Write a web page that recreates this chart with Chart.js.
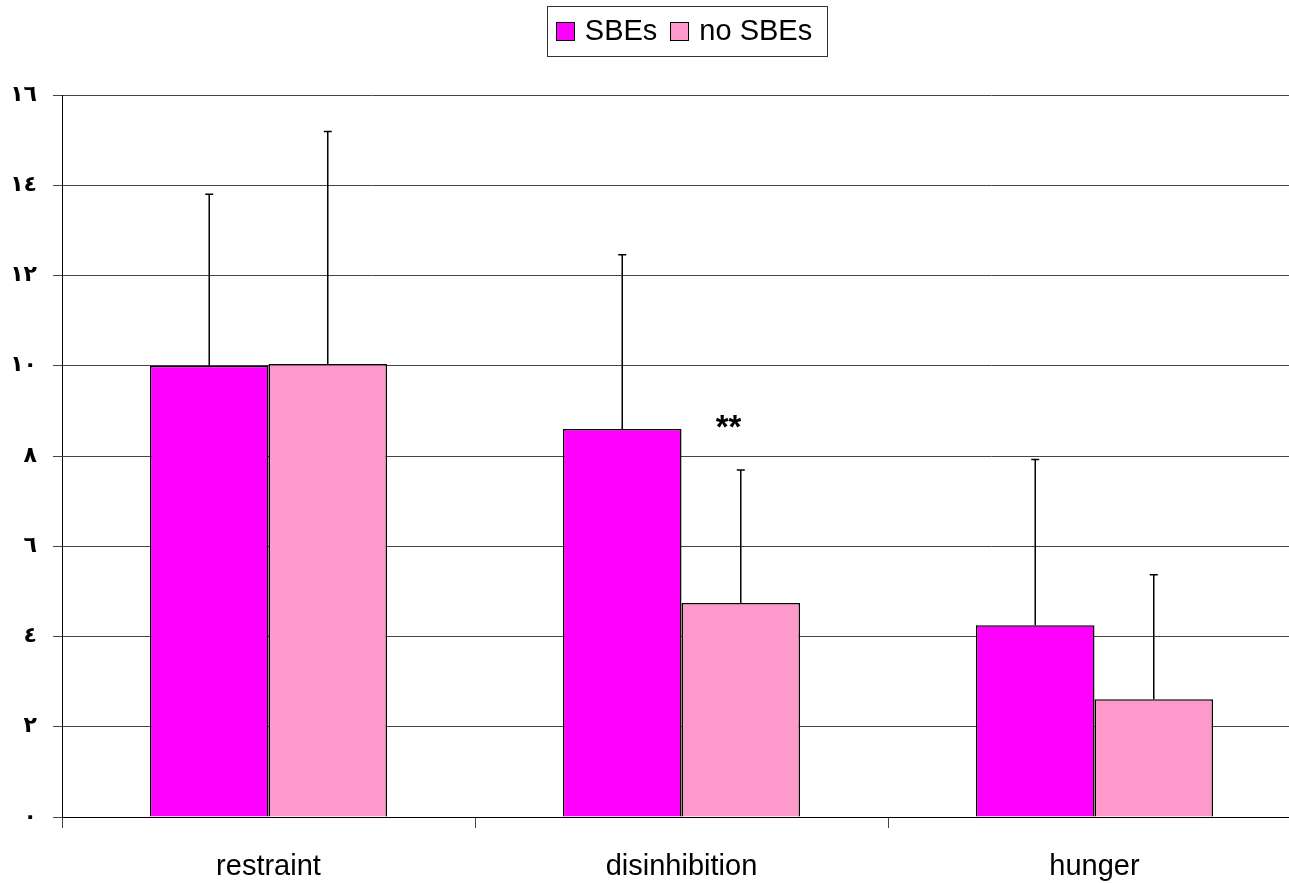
<!DOCTYPE html>
<html>
<head>
<meta charset="utf-8">
<script src="https://cdn.jsdelivr.net/npm/chart.js@4.4.1/dist/chart.umd.min.js"></script>
<style>
  html, body { margin: 0; padding: 0; background: #fff; overflow: hidden; }
  #wrap { position: relative; width: 1362px; height: 883px; }
</style>
</head>
<body>
<div id="wrap"><canvas id="chart"></canvas></div>
<script>
// datos
const categories = ['restraint', 'disinhibition', 'hunger'];
const seriesNames = ['SBEs', 'no SBEs'];
const sbeMeans = [10.0, 8.6, 4.25];
const sbeSD = [3.8, 3.86, 3.67];
const noSbeMeans = [10.04, 4.74, 2.61];
const noSbeSD = [5.15, 2.95, 2.76];
const yTickLabels = ['٠', '٢', '٤', '٦', '٨', '١٠', '١٢', '١٤', '١٦'];
const starLabel = '**';

const COLORS = { sbe: '#ff00ff', noSbe: '#ff99cc', line: '#000', grid: '#444' };
const FONT = 'Liberation Sans, Arial, sans-serif';

// barras de error (solo hacia arriba, como el original)
const errorBars = {
  id: 'errorBars',
  afterDatasetsDraw(chart) {
    const ctx = chart.ctx, y = chart.scales.y;
    chart.data.datasets.forEach((ds, i) => {
      chart.getDatasetMeta(i).data.forEach((bar, j) => {
        const top = y.getPixelForValue(ds.data[j] + ds.sd[j]);
        ctx.save();
        ctx.strokeStyle = COLORS.line;
        ctx.lineWidth = 1.5;
        ctx.beginPath();
        ctx.moveTo(bar.x, bar.y);
        ctx.lineTo(bar.x, top);
        ctx.moveTo(bar.x - 4, top);
        ctx.lineTo(bar.x + 4, top);
        ctx.stroke();
        ctx.restore();
      });
    });
    // asteriscos de significancia en disinhibition
    const x = chart.scales.x.getPixelForValue(1) + 47;
    ctx.save();
    ctx.fillStyle = '#000';
    ctx.font = 'bold 33px ' + FONT;
    ctx.textAlign = 'center';
    ctx.textBaseline = 'middle';
    ctx.fillText(starLabel, x, y.getPixelForValue(8.6));
    ctx.restore();
  }
};

// leyenda con marco, centrada arriba
const boxLegend = {
  id: 'boxLegend',
  afterDraw(chart) {
    const ctx = chart.ctx;
    const sets = chart.data.datasets;
    const sq = 19, gapIn = 10, gapOut = 13;
    ctx.save();
    ctx.font = '29px ' + FONT;
    const widths = sets.map(d => ctx.measureText(d.label).width);
    let total = 0;
    widths.forEach((w, i) => { total += sq + gapIn + w + (i < widths.length - 1 ? gapOut : 0); });
    const cx = 684, cy = 31;
    let x = cx - total / 2;
    ctx.strokeStyle = '#333';
    ctx.lineWidth = 1;
    ctx.strokeRect(Math.round(x - 9) + 0.5, 6.5, Math.round(total + 24), 50);
    ctx.textBaseline = 'middle';
    sets.forEach((d, i) => {
      ctx.fillStyle = d.backgroundColor;
      ctx.fillRect(Math.round(x), cy - 9, sq, sq);
      ctx.strokeStyle = '#000';
      ctx.strokeRect(Math.round(x) + 0.5, cy - 8.5, sq - 1, sq - 1);
      x += sq + gapIn;
      ctx.fillStyle = '#000';
      ctx.fillText(d.label, x, cy + 1);
      x += widths[i] + gapOut;
    });
    ctx.restore();
  }
};

new Chart(document.getElementById('chart'), {
  type: 'bar',
  data: {
    labels: categories,
    datasets: [
      { label: seriesNames[0], data: sbeMeans, sd: sbeSD, backgroundColor: COLORS.sbe, borderColor: COLORS.line, borderWidth: 1.5 },
      { label: seriesNames[1], data: noSbeMeans, sd: noSbeSD, backgroundColor: COLORS.noSbe, borderColor: COLORS.line, borderWidth: 1.5 }
    ]
  },
  options: {
    responsive: true, maintainAspectRatio: false, animation: false,
    barPercentage: 1, categoryPercentage: 0.574,
    layout: { padding: { top: 95, right: 61, bottom: 0, left: 0 } },
    plugins: { legend: { display: false }, tooltip: { enabled: false } },
    scales: {
      x: {
        grid: { drawOnChartArea: false, drawTicks: true, tickLength: 11, tickColor: '#444', offset: true },
        border: { color: COLORS.line, width: 1 },
        ticks: { color: '#000', font: { family: FONT, size: 29 }, padding: 22 },
        afterFit: s => { s.height = 66; }
      },
      y: {
        min: 0, max: 16,
        ticks: { stepSize: 2, padding: 16, color: '#000', font: { family: 'DejaVu Sans', size: 22, weight: 'bold' }, callback: (v, i) => yTickLabels[i] },
        grid: { color: COLORS.grid, tickColor: COLORS.grid, tickLength: 9 },
        border: { color: COLORS.line, width: 1 },
        afterFit: s => { s.width = 62; }
      }
    }
  },
  plugins: [errorBars, boxLegend]
});
</script>
</body>
</html>
